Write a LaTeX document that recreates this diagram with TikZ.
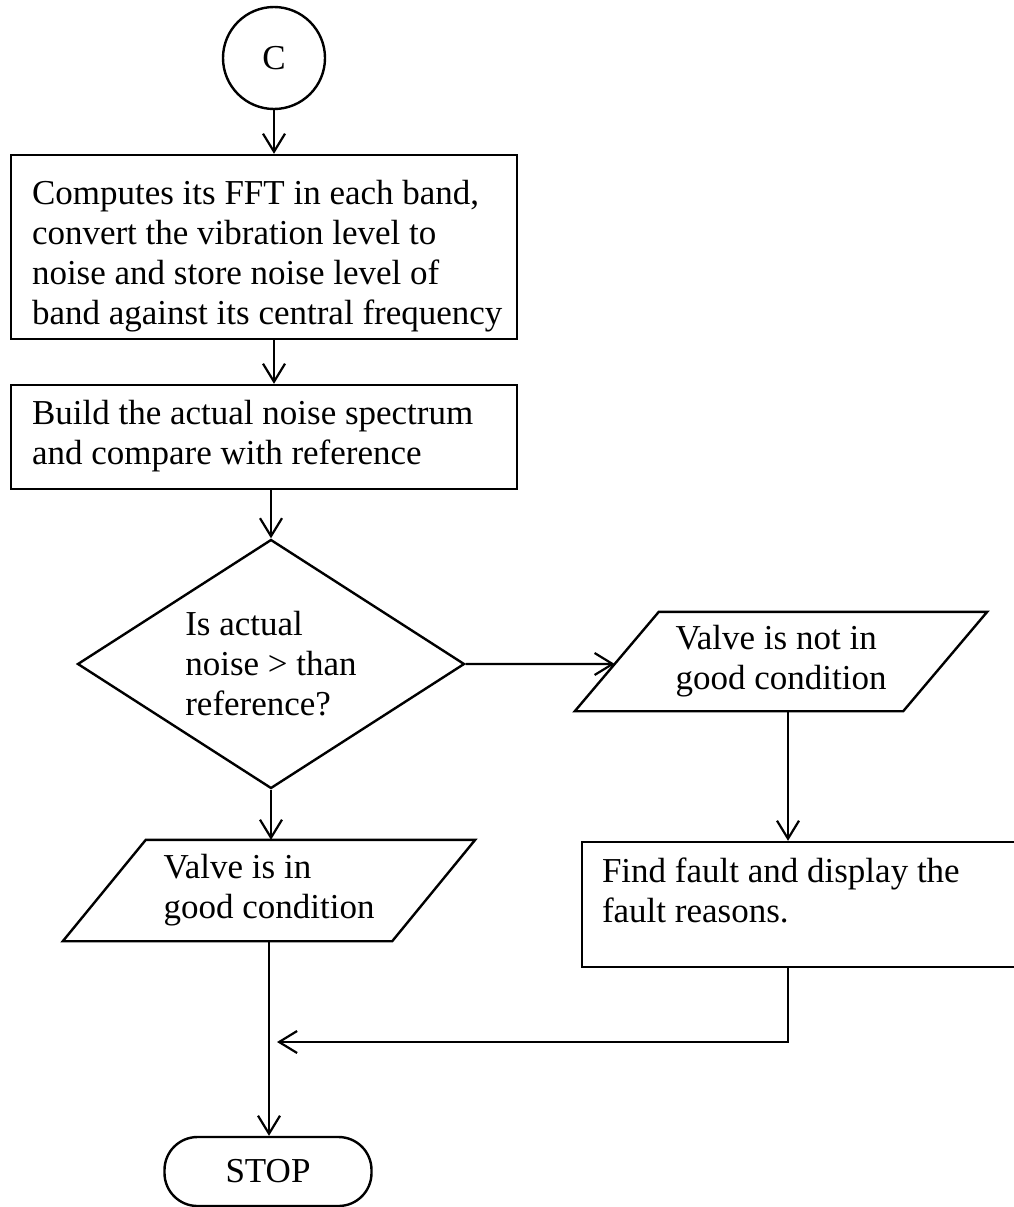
\documentclass[tikz,border=0pt]{standalone}
\usepackage{fontspec}
\setmainfont{Liberation Serif}
\usetikzlibrary{shapes.geometric,arrows.meta,calc}
\begin{document}
\begin{tikzpicture}[x=1pt,y=-1pt,
  every node/.style={font=\fontsize{35}{40}\selectfont, inner sep=0pt},
  line/.style={line width=2.4pt, line join=miter},
  arr/.style={line width=2.2pt, -{Straight Barb[length=18pt,width=22pt,line width=2.2pt]}},
  box/.style={draw, rectangle, line width=2.4pt},
  txt/.style={anchor=north west, align=left},
  para/.style={align=left}
]
\useasboundingbox (0,0) rectangle (1014,1207);

% nodes
\node[draw, circle, line width=2.4pt, minimum size=102pt] (C) at (274,58) {C};

\node[box, minimum width=506pt, minimum height=184pt] (b1) at (264,247) {};
\node[txt] (b1t) at ($(b1.north west)+(22,26)$) {Computes its FFT in each band,\\convert the vibration level to\\noise and store noise level of\\band against its central frequency};

\node[box, minimum width=506pt, minimum height=104pt] (b2) at (264,437) {};
\node[txt] (b2t) at ($(b2.north west)+(22,16)$) {Build the actual noise spectrum\\and compare with reference};

\node[draw, diamond, aspect=1.554, minimum width=387pt, minimum height=249pt, line width=2.4pt, align=left] (d) at (271,664) {Is actual\\noise > than\\reference?};

\node[para, minimum width=244pt, minimum height=99pt] (pn) at (781,661.5) {Valve is not in\\good condition};
\draw[line] (pn.north west) -- ($(pn.north east)+(84,0)$) -- (pn.south east) -- ($(pn.south west)+(-84,0)$) -- cycle;
\coordinate (pnin) at ($($(pn.south west)+(-84,0)$)!0.475!(pn.north west)$);

\node[box, minimum width=448pt, minimum height=125pt] (b3) at (806,904.5) {};
\node[txt] (b3t) at ($(b3.north west)+(21,17)$) {Find fault and display the\\fault reasons.};

\node[para, minimum width=246pt, minimum height=101pt] (pg) at (269,890.5) {Valve is in\\good condition};
\draw[line] (pg.north west) -- ($(pg.north east)+(83,0)$) -- (pg.south east) -- ($(pg.south west)+(-83,0)$) -- cycle;

\node[draw, rounded corners=33pt, minimum width=207pt, minimum height=69pt, line width=2.4pt] (stop) at (268,1171.5) {STOP};

% connectors
\coordinate (colR) at (788,0);
\coordinate (mergeR) at (788,1042);
\coordinate (mergeL) at (277,1042);
\draw[arr] (C.south) -- (C.south |- b1.north);
\draw[arr] (C.south |- b1.south) -- (C.south |- b2.north);
\draw[arr] (d.north |- b2.south) -- (d.north);
\draw[arr] (d.east) -- (pnin);
\draw[arr] (d.south) -- (d.south |- pg.north);
\draw[arr] (pn.south -| colR) -- (b3.north -| colR);
\draw[arr, line join=miter] (b3.south -| colR) -- (mergeR) -- (mergeL);
\draw[arr] (pg.south) -- (pg.south |- stop.north);
\end{tikzpicture}
\end{document}
